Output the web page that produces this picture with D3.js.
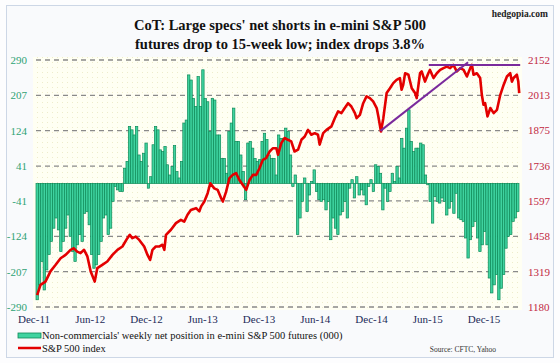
<!DOCTYPE html>
<html>
<head>
<meta charset="utf-8">
<script src="https://cdn.jsdelivr.net/npm/d3@7"></script>
<style>
  body { margin: 0; background: #fff; }
  svg { display: block; }
  text { font-family: "Liberation Serif", "Times New Roman", serif; }
</style>
</head>
<body>
<div id="chart"></div>
<script>
// weekly net position of non-commercials, e-mini S&P 500 futures (000)
const netPos = [
  -273, -238, -183, -250, -203, -167, -136, -105, -81, -109,
  -160, -136, -105, -74, -124, -160, -183, -144, -120, -136,
  -70, -66, -97, -167, -199, -191, -167, -136, -81, -74,
  -120, -105, -42, -7, -15, -19, -19, 36, 52, 134,
  126, 114, 134, 67, 52, 71, 95, -11, 16,
  91, 134, 126, 79, 75, 87, 44, 20, 40, 89,
  28, 13, 52, 142, 149, 255, 243, 200, 181, 251,
  181, 267, 200, 192, 122, 200, 196, 114, 114, 59,
  59, 24, 122, 142, 177, 99, 99, 67, 28, -38,
  95, 99, 83, 59, 52, 56, 99, 118, 103, 67, 59,
  59, 20, 114, 106, 106, 130, 122, 67, -7, 20,
  -120, -81, -42, 13, -66, -27, 5, 32, -19, -38,
  -42, -38, -62, -42, -132, -81, -105, -120, -74, -66,
  -42, -81, -11, 9, -34, 16, -27, -15, -27, -50,
  -7, 9, -19, 44, 40, 24, -62, -11, -42, -19, 24, 5,
  40, 13, 106, 83, 130, 173, 99, 75, 83, 83,
  95, 91, 20, -3, -42, -93, -31, -42, -46, -34,
  -42, -74, -58, -42, -70, -23, -81, -85, -89, -128,
  -175, -132, -101, -89, -128, -160, -144, -113, -144, -222,
  -257, -238, -214, -273, -246, -214, -152, -124, -120, -89,
  -81, -66
]

// S&P 500 index, read at these week numbers
const spWeek = [
  0, 1.4, 3.5, 5.6, 7.8, 9.9, 12, 14.1, 15.5, 16.9,
  18.3, 19.8, 21.2, 22.6, 24.3, 25.4, 27.5, 29.6, 31.8, 33.9,
  36, 38.1, 39.1, 40.2, 41.6, 43.1, 45.2, 46.6, 47.7, 48.7, 50.1,
  51.5, 52.9, 53.7, 54.4, 56.5, 58.6, 60.7, 62.1, 63.5, 64.9,
  67.1, 68.5, 69.2, 70.6, 72, 73.1, 74.8, 76.2, 77.7, 78.4,
  79.8, 81.2, 82.6, 84, 85.4, 86.8, 88.3, 89.7, 91.1, 92.5,
  93.9, 95.3, 96.7, 98.2, 99.6, 101,
  101.7, 103.1, 104.5, 105.9, 107.3, 108.7, 110.2, 111.6, 113, 114.4,
  115.8, 117.2, 118.6, 119.3, 120.8, 122.2, 124.3, 125.7, 127.1, 128.5,
  129.9, 131.3, 132.7, 134.2, 134.9, 136.3, 137.7, 139.1, 140.5, 141.9,
  143.4, 144.1, 145.2, 146.2, 147.6, 149, 150.4, 151.8,
  153.2, 153.9, 154.6, 155.4, 156.8, 158.2, 159.6, 160.3, 161.7, 162.4,
  163.8, 165.2, 165.9, 167.4, 168.8, 170.2, 171.6, 173, 174.4, 175.8,
  177.2, 178.7, 180.1, 181.5, 182.9, 183.6, 184.3, 185.7, 187.1, 187.8,
  188.5, 189.2, 190.2, 191.4, 192.8, 194.2, 195.6, 197, 198.4, 199.8,
  200.5, 201.2, 202.6, 203.2, 203.6
]
const spClose = [
  1227, 1267, 1280, 1320, 1346, 1372, 1385, 1405, 1411, 1398,
  1392, 1405, 1379, 1320, 1280, 1333, 1346, 1359, 1385, 1405,
  1418, 1451, 1464, 1451, 1457, 1444, 1418, 1385, 1365, 1405, 1418,
  1418, 1425, 1405, 1464, 1484, 1510, 1523, 1516, 1543, 1562,
  1569, 1556, 1575, 1595, 1628, 1667, 1647, 1641, 1608, 1595,
  1634, 1687, 1700, 1707, 1680, 1661, 1641, 1680, 1700, 1700,
  1726, 1759, 1766, 1792, 1805, 1805,
  1779, 1825, 1845, 1838, 1832, 1792, 1799, 1838, 1851, 1877,
  1858, 1864, 1858, 1819, 1864, 1877, 1891, 1923, 1950, 1943,
  1963, 1982, 1969, 1943, 1923, 1936, 1982, 2009, 2002, 1989,
  1963, 1930, 1871, 1923, 2022, 2041, 2061, 2074,
  2081, 2035, 2054, 2100, 2094, 2041, 2022, 2002, 2100, 2107,
  2067, 2100, 2113, 2081, 2100, 2113, 2120, 2126, 2120, 2133,
  2107, 2120, 2113, 2087, 2120, 2133, 2094, 2100, 2081, 2015,
  1976, 1982, 1930, 1963, 1943, 1956, 2015, 2054, 2087, 2100,
  2067, 2081, 2094, 2067, 2022
]

// purple trend lines drawn on the index
const trendWeek = [[145, 182], [165.4, 204]]
const trendValue = [[1873, 2143], [2132, 2132]]

const leftTicks = [290, 207, 124, 41, -41, -124, -207, -290]
const rightTicks = [2152, 2013, 1875, 1736, 1597, 1458, 1319, 1180]
const xLabels = ['Dec-11', 'Jun-12', 'Dec-12', 'Jun-13', 'Dec-13', 'Jun-14', 'Dec-14', 'Jun-15', 'Dec-15']

const W = 560, H = 363
const plot = { left: 36, right: 519, top: 60, bottom: 307 }

const svg = d3.select('#chart').append('svg').attr('width', W).attr('height', H)

const defs = svg.append('defs')
const dots = defs.append('pattern')
  .attr('id', 'dots').attr('width', 5).attr('height', 5)
  .attr('patternUnits', 'userSpaceOnUse')
dots.append('rect').attr('width', 5).attr('height', 5).attr('fill', '#fffff3')
dots.append('rect').attr('x', 2).attr('y', 2).attr('width', 1).attr('height', 1).attr('fill', '#eeeccb')

// outer panel
svg.append('rect').attr('width', W).attr('height', H).attr('fill', '#fdfdfe')
svg.append('rect')
  .attr('x', 6.5).attr('y', 5.5).attr('width', 547).attr('height', 352)
  .attr('fill', '#f9fafc').attr('stroke', '#cdd7e6').attr('stroke-width', 1)

// plot background
svg.append('rect')
  .attr('x', plot.left - 3).attr('y', plot.top - 3)
  .attr('width', plot.right - plot.left + 6).attr('height', plot.bottom - plot.top + 6)
  .attr('fill', 'url(#dots)')

// scales
const x = d3.scaleBand().domain(d3.range(netPos.length)).range([plot.left, plot.right]).padding(0)
const xw = d3.scaleLinear().domain([0, netPos.length - 1])
  .range([plot.left + x.bandwidth() / 2, plot.right - x.bandwidth() / 2])
const yL = d3.scaleLinear().domain([-290, 290]).range([plot.bottom, plot.top])
const yR = d3.scaleLinear().domain([1180, 2152]).range([plot.bottom, plot.top])
const xLab = d3.scalePoint().domain(xLabels).range([34, 484])

// gridlines
svg.append('g').selectAll('line')
  .data(leftTicks)
  .join('line')
  .attr('x1', plot.left).attr('x2', plot.right)
  .attr('y1', d => yL(d)).attr('y2', d => yL(d))
  .attr('stroke', '#8a8a8a').attr('stroke-width', 1.3)
  .attr('stroke-dasharray', '5,4')

// bars
svg.append('g').selectAll('rect')
  .data(netPos)
  .join('rect')
  .attr('x', (d, i) => x(i))
  .attr('width', x.bandwidth())
  .attr('y', d => Math.min(yL(d), yL(0)))
  .attr('height', d => Math.abs(yL(d) - yL(0)))
  .attr('fill', '#3fd3a0')
  .attr('stroke', '#0d8a58')
  .attr('stroke-width', 0.7)

// S&P 500 line
const sp = spWeek.map((w, i) => ({ w: w, v: spClose[i] }))
svg.append('path')
  .datum(sp)
  .attr('fill', 'none')
  .attr('stroke', '#e30000')
  .attr('stroke-width', 2.6)
  .attr('stroke-linejoin', 'round')
  .attr('d', d3.line().x(d => xw(d.w)).y(d => yR(d.v)))

// trend lines
svg.append('g').selectAll('line')
  .data(trendWeek)
  .join('line')
  .attr('x1', d => xw(d[0])).attr('x2', d => xw(d[1]))
  .attr('y1', (d, i) => yR(trendValue[i][0])).attr('y2', (d, i) => yR(trendValue[i][1]))
  .attr('stroke', '#7a2a9c').attr('stroke-width', 2)

// left axis labels
svg.append('g').selectAll('text')
  .data(leftTicks)
  .join('text')
  .attr('x', 27).attr('y', d => yL(d) + 4)
  .attr('text-anchor', 'end')
  .attr('font-size', 11)
  .attr('fill', '#2fa274')
  .text(d => d)

// right axis labels
svg.append('g').selectAll('text')
  .data(rightTicks)
  .join('text')
  .attr('x', 528).attr('y', d => yR(d) + 4)
  .attr('font-size', 11)
  .attr('fill', '#c2283f')
  .text(d => d)

// x axis labels
svg.append('g').selectAll('text')
  .data(xLabels)
  .join('text')
  .attr('x', d => xLab(d)).attr('y', 323)
  .attr('text-anchor', 'middle')
  .attr('font-size', 11)
  .attr('fill', '#1c2a58')
  .text(d => d)

// title
const title = svg.append('text')
  .attr('text-anchor', 'middle')
  .attr('font-size', 14.5).attr('font-weight', 'bold').attr('fill', '#111')
title.append('tspan').attr('x', 280).attr('y', 30).text("CoT: Large specs' net shorts in e-mini S&P 500")
title.append('tspan').attr('x', 280).attr('y', 49).text('futures drop to 15-week low; index drops 3.8%')

svg.append('text')
  .attr('x', 548).attr('y', 17).attr('text-anchor', 'end')
  .attr('font-size', 9.5).attr('font-weight', 'bold').attr('fill', '#222')
  .text('hedgopia.com')

// legend
const legend = svg.append('g')
legend.append('rect')
  .attr('x', 18).attr('y', 333).attr('width', 23).attr('height', 5)
  .attr('fill', '#3fd3a0').attr('stroke', '#0d8a58').attr('stroke-width', 0.8)
legend.append('text')
  .attr('x', 42).attr('y', 339).attr('font-size', 10.5).attr('fill', '#111')
  .text("Non-commercials' weekly net position in e-mini S&P 500 futures (000)")
legend.append('line')
  .attr('x1', 18).attr('x2', 41).attr('y1', 348).attr('y2', 348)
  .attr('stroke', '#e30000').attr('stroke-width', 2.5)
legend.append('text')
  .attr('x', 42).attr('y', 352).attr('font-size', 10.5).attr('fill', '#111')
  .text('S&P 500 index')

svg.append('text')
  .attr('x', 496).attr('y', 352).attr('text-anchor', 'end')
  .attr('font-size', 7.5).attr('fill', '#333')
  .text('Source: CFTC, Yahoo')
</script>
</body>
</html>
